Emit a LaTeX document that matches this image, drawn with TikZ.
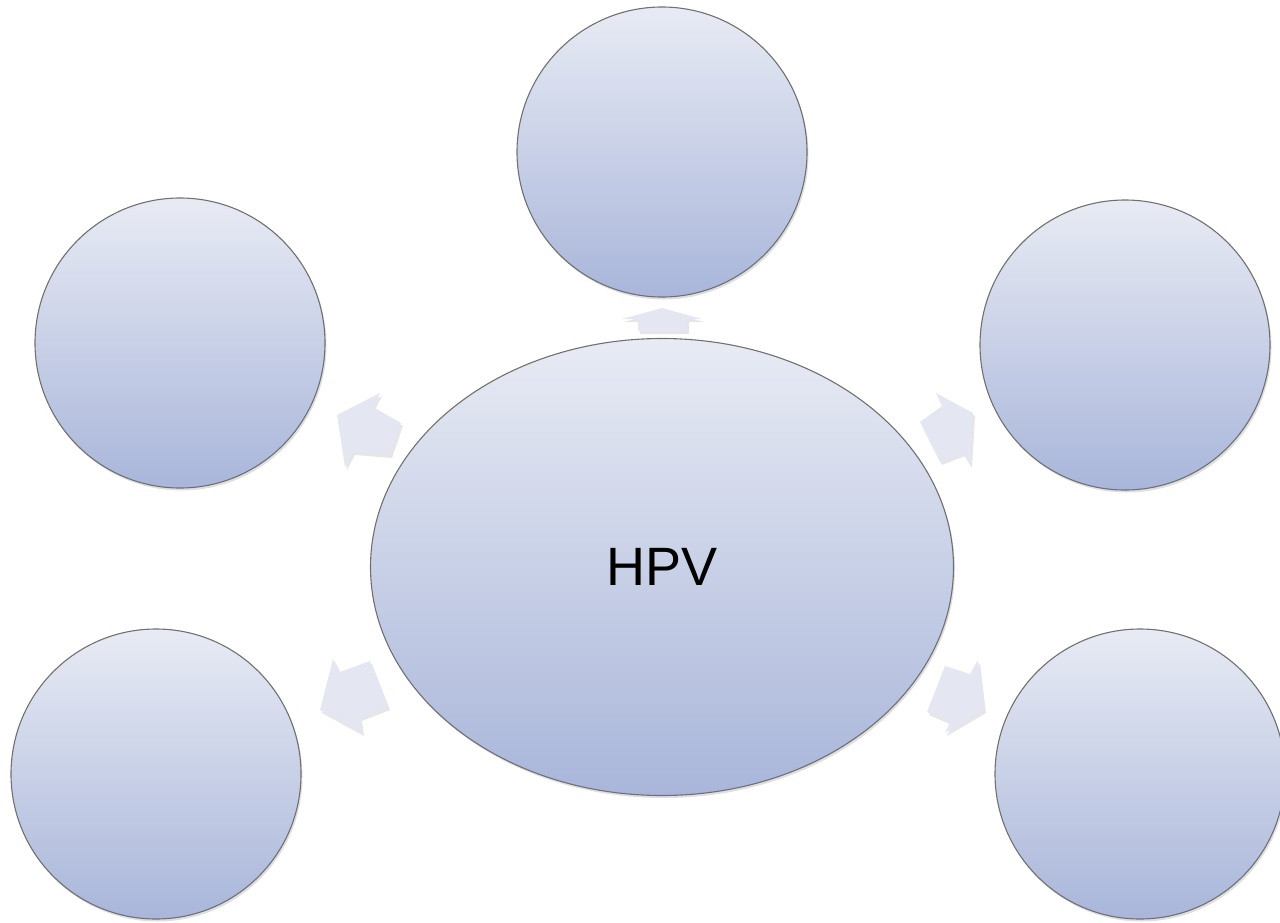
\documentclass[tikz,border=0pt]{standalone}
\usepackage{fontspec}
\setmainfont{Liberation Sans}
\usetikzlibrary{shapes.geometric,shadows}
\definecolor{lighttop}{HTML}{E8EBF4}
\definecolor{darkbot}{HTML}{A9B6DA}
\definecolor{rim}{HTML}{707070}
\definecolor{arrowfill}{HTML}{E4E7F2}
\tikzset{
  bubble/.style={circle, draw=rim, line width=1.1pt, top color=lighttop, bottom color=darkbot,
    minimum size=290pt, inner sep=0pt,
    drop shadow={shadow xshift=1.5pt, shadow yshift=-2.5pt, opacity=0.25}},
  hub/.style={ellipse, draw=rim, line width=1.1pt, top color=lighttop, bottom color=darkbot,
    minimum width=583pt, minimum height=457pt, inner sep=0pt,
    font=\fontsize{54}{60}\selectfont,
    drop shadow={shadow xshift=1.5pt, shadow yshift=-2.5pt, opacity=0.25}},
  blockarrow/.style={fill=arrowfill, draw=none,
    drop shadow={shadow xshift=2pt, shadow yshift=-3pt, opacity=0.2}}
}
\begin{document}
\begin{tikzpicture}[x=1pt,y=-1pt]
\useasboundingbox (0,0) rectangle (1280,922);
\node[hub] (c) at (662,567) {HPV};
\node[bubble] (t) at (662,152) {};
\node[bubble] (ul) at (180,343) {};
\node[bubble] (ur) at (1125,345) {};
\node[bubble] (ll) at (156,774) {};
\node[bubble] (lr) at (1140,774) {};
% arrows
\path[blockarrow] (662,308) -- (702,319) -- (687,319) -- (687,331) -- (638,331) -- (638,319) -- (622,319) -- cycle;
\path[blockarrow] (380,393) -- (373,407) -- (401,423) -- (390,455) -- (353,452) -- (345,467) -- (337,415) -- cycle;
\path[blockarrow] (936,393) -- (942,406) -- (920,422) -- (940,462) -- (963,453) -- (970,465) -- (973,413) -- cycle;
\path[blockarrow] (333,659) -- (340,672) -- (370,661) -- (388,707) -- (360,718) -- (362,733) -- (320,710) -- cycle;
\path[blockarrow] (945,666) -- (970,674) -- (978,660) -- (984,710) -- (945,733) -- (950,722) -- (927,712) -- cycle;
\end{tikzpicture}
\end{document}
